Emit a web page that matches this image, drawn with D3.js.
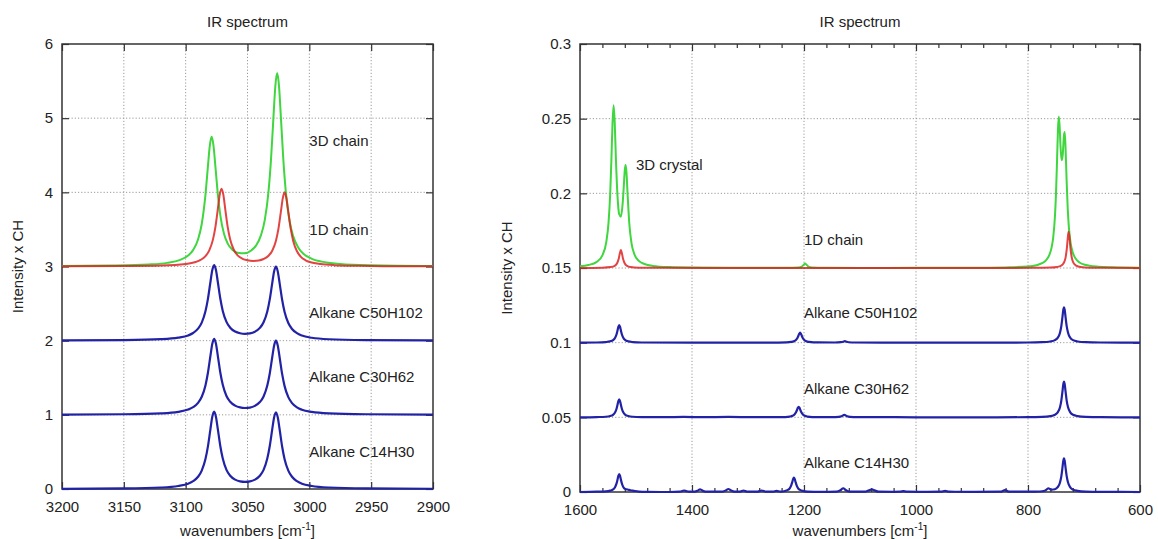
<!DOCTYPE html>
<html>
<head>
<meta charset="utf-8">
<script src="https://cdn.jsdelivr.net/npm/d3@7"></script>
<style>
  body { margin: 0; background: #fff; }
  svg { display: block; font-family: "Liberation Sans", Arial, Helvetica, sans-serif; }
</style>
</head>
<body>
<svg width="1158" height="539"></svg>
<script>
// ---- C-H stretch region (left panel) ----
const chXTicks = [3200, 3150, 3100, 3050, 3000, 2950, 2900];
const chYTicks = [0, 1, 2, 3, 4, 5, 6];

// shared wavenumbers for the three alkane curves
const alkaneWn = [3200, 3150, 3120, 3106, 3098, 3094, 3090, 3087, 3084, 3082, 3080, 3078.5, 3077, 3075.5, 3074, 3072, 3070, 3067, 3064, 3060, 3056, 3052, 3048, 3044, 3040, 3037, 3034, 3032, 3030, 3028.5, 3027, 3025.5, 3024, 3022, 3020, 3017, 3014, 3010, 3006, 2998, 2984, 2954, 2900];
const c14CH = [0.003, 0.008, 0.020, 0.041, 0.072, 0.105, 0.165, 0.248, 0.403, 0.575, 0.805, 0.970, 1.042, 0.972, 0.808, 0.580, 0.410, 0.258, 0.179, 0.126, 0.102, 0.095, 0.102, 0.126, 0.179, 0.258, 0.410, 0.580, 0.805, 0.965, 1.035, 0.965, 0.802, 0.573, 0.402, 0.248, 0.165, 0.105, 0.072, 0.041, 0.020, 0.008, 0.003];
const c30CH = [1.003, 1.008, 1.020, 1.040, 1.071, 1.103, 1.162, 1.244, 1.397, 1.567, 1.793, 1.955, 2.026, 1.957, 1.796, 1.571, 1.404, 1.254, 1.176, 1.124, 1.100, 1.092, 1.098, 1.121, 1.172, 1.248, 1.394, 1.557, 1.776, 1.933, 2.000, 1.931, 1.773, 1.552, 1.387, 1.238, 1.158, 1.101, 1.069, 1.039, 1.019, 1.008, 1.003];
const c50CH = [2.003, 2.008, 2.020, 2.040, 2.070, 2.103, 2.162, 2.243, 2.395, 2.563, 2.788, 2.950, 3.020, 2.952, 2.791, 2.568, 2.401, 2.253, 2.175, 2.123, 2.100, 2.092, 2.098, 2.121, 2.172, 2.248, 2.394, 2.557, 2.776, 2.933, 3.000, 2.931, 2.773, 2.552, 2.387, 2.238, 2.158, 2.101, 2.069, 2.039, 2.019, 2.008, 2.003];

const chain1DWn = [3200, 3150, 3120, 3100, 3092, 3088, 3084, 3081, 3078, 3076, 3074, 3072.5, 3071, 3069.5, 3068, 3066, 3064, 3061, 3058, 3054, 3050, 3045.5, 3041, 3037, 3033, 3030, 3027, 3025, 3023, 3021.5, 3020, 3018.5, 3017, 3015, 3013, 3010, 3007, 3003, 2999, 2991, 2980, 2960, 2940, 2900];
const chain1DCH = [3.002, 3.006, 3.013, 3.034, 3.060, 3.088, 3.140, 3.215, 3.359, 3.528, 3.773, 3.963, 4.049, 3.964, 3.775, 3.532, 3.364, 3.223, 3.151, 3.104, 3.083, 3.075, 3.081, 3.101, 3.145, 3.213, 3.348, 3.507, 3.739, 3.918, 4.000, 3.917, 3.737, 3.503, 3.342, 3.205, 3.134, 3.084, 3.058, 3.033, 3.018, 3.009, 3.005, 3.003];

const chain3DWn = [3200, 3160, 3130, 3115, 3105, 3098, 3094, 3090, 3087, 3084, 3082, 3080.5, 3079, 3077.5, 3076, 3074, 3072, 3069, 3066, 3062, 3058, 3052.5, 3047, 3043, 3039, 3036, 3033, 3031, 3029, 3027.5, 3026, 3024.5, 3023, 3021, 3019, 3016, 3013, 3009, 3005, 2998, 2990, 2975, 2950, 2900];
const chain3DCH = [3.006, 3.012, 3.027, 3.049, 3.086, 3.148, 3.221, 3.363, 3.573, 3.966, 4.351, 4.627, 4.748, 4.630, 4.357, 3.977, 3.694, 3.441, 3.309, 3.222, 3.185, 3.178, 3.216, 3.285, 3.426, 3.629, 4.013, 4.441, 5.018, 5.430, 5.608, 5.428, 5.014, 4.434, 4.003, 3.614, 3.406, 3.256, 3.176, 3.104, 3.066, 3.035, 3.017, 3.007];

// ---- fingerprint region (right panel), [wavenumber, intensity] ----
const fpXTicks = [1600, 1400, 1200, 1000, 800, 600];
const fpYTicks = [0, 0.05, 0.1, 0.15, 0.2, 0.25, 0.3];

const crystal3DFP = [[1600,0.1512],[1585,0.1520],[1570,0.1541],[1560,0.1585],[1553,0.1675],[1549,0.1806],[1546,0.2004],[1544,0.2216],[1542,0.2462],[1540,0.2590],[1538,0.2475],[1536,0.2244],[1533,0.1980],[1530,0.1860],[1527,0.1844],[1524,0.1924],[1522,0.2035],[1520,0.2156],[1518.5,0.2190],[1517,0.2139],[1515,0.1994],[1512,0.1800],[1508,0.1665],[1503,0.1593],[1495,0.1548],[1485,0.1527],[1470,0.1514],[1440,0.1506],[1400,0.1503],[1300,0.1501],[1230,0.1501],[1210,0.1503],[1204,0.1509],[1200,0.1524],[1198,0.1530],[1196,0.1524],[1192,0.1509],[1186,0.1503],[1160,0.1501],[1100,0.1500],[1000,0.1501],[900,0.1501],[840,0.1504],[800,0.1510],[785,0.1519],[775,0.1532],[768,0.1551],[762,0.1586],[758,0.1635],[755,0.1704],[752,0.1838],[750,0.1998],[748,0.2237],[746.5,0.2425],[745,0.2514],[743.5,0.2448],[742,0.2321],[740,0.2222],[738,0.2258],[736,0.2379],[734.5,0.2410],[733,0.2311],[731,0.2081],[729,0.1893],[727,0.1772],[724,0.1670],[720,0.1603],[715,0.1563],[708,0.1537],[700,0.1523],[690,0.1515],[675,0.1509],[650,0.1505],[600,0.1502]];

const chain1DFP = [[1600,0.1500],[1560,0.1502],[1545,0.1506],[1538,0.1514],[1534,0.1530],[1531,0.1560],[1529,0.1596],[1527,0.1620],[1525,0.1596],[1523,0.1560],[1520,0.1530],[1516,0.1514],[1510,0.1506],[1495,0.1502],[1460,0.1501],[1300,0.1500],[1000,0.1500],[850,0.1500],[790,0.1501],[760,0.1503],[748,0.1507],[741,0.1515],[736,0.1535],[733,0.1568],[730.5,0.1636],[729,0.1701],[727.5,0.1743],[726,0.1710],[724.5,0.1644],[722,0.1572],[719,0.1536],[714,0.1516],[706,0.1506],[690,0.1502],[660,0.1501],[600,0.1500]];

const c50FP = [[1600,0.1000],[1570,0.1001],[1554,0.1004],[1546,0.1009],[1541,0.1017],[1537.5,0.1031],[1535,0.1053],[1533,0.1082],[1531.5,0.1106],[1530,0.1118],[1528.5,0.1106],[1527,0.1082],[1525,0.1053],[1522.5,0.1031],[1519,0.1017],[1514,0.1009],[1506,0.1004],[1490,0.1001],[1400,0.1000],[1260,0.1000],[1231,0.1002],[1223,0.1005],[1218,0.1010],[1214.5,0.1018],[1212,0.1030],[1210,0.1046],[1208.5,0.1060],[1207,0.1067],[1205.5,0.1060],[1204,0.1046],[1202,0.1030],[1199.5,0.1018],[1196,0.1010],[1191,0.1005],[1183,0.1002],[1145,0.1001],[1134,0.1003],[1130,0.1006],[1127,0.1010],[1124,0.1006],[1120,0.1003],[1110,0.1001],[1000,0.1000],[900,0.1000],[800,0.1001],[775,0.1003],[760,0.1008],[752,0.1017],[747,0.1032],[743,0.1065],[740.5,0.1111],[738.5,0.1171],[737,0.1219],[735.7,0.1237],[734.5,0.1221],[733,0.1174],[731,0.1113],[728.5,0.1067],[724.5,0.1033],[719.5,0.1017],[711.5,0.1008],[697,0.1003],[670,0.1001],[600,0.1000]];

const c30FP = [[1600,0.0500],[1570,0.0502],[1554,0.0504],[1546,0.0509],[1541,0.0517],[1537.5,0.0532],[1535,0.0554],[1533,0.0584],[1531.5,0.0609],[1530,0.0621],[1528.5,0.0609],[1527,0.0584],[1525,0.0554],[1522.5,0.0532],[1519,0.0517],[1514,0.0509],[1506,0.0504],[1490,0.0502],[1450,0.0501],[1415,0.0503],[1380,0.0501],[1335,0.0503],[1290,0.0501],[1250,0.0501],[1233.5,0.0502],[1225.5,0.0505],[1220.5,0.0510],[1217,0.0519],[1214.5,0.0532],[1212.5,0.0549],[1211,0.0564],[1209.5,0.0571],[1208,0.0564],[1206.5,0.0549],[1204.5,0.0532],[1202,0.0519],[1198.5,0.0510],[1193.5,0.0505],[1185.5,0.0502],[1150,0.0501],[1138,0.0503],[1133,0.0507],[1128,0.0516],[1123,0.0507],[1118,0.0503],[1105,0.0501],[1075,0.0502],[1000,0.0500],[900,0.0500],[800,0.0501],[775,0.0503],[760,0.0508],[752,0.0517],[747,0.0533],[743,0.0566],[740.5,0.0612],[738.5,0.0672],[737,0.0721],[735.7,0.0739],[734.5,0.0723],[733,0.0676],[731,0.0614],[728.5,0.0567],[724.5,0.0533],[719.5,0.0517],[711.5,0.0508],[697,0.0503],[670,0.0501],[600,0.0500]];

const c14FP = [[1600,0.0000],[1570,0.0002],[1554,0.0004],[1546,0.0009],[1541,0.0017],[1537.5,0.0032],[1535,0.0054],[1533,0.0083],[1531.5,0.0108],[1530,0.0120],[1528.5,0.0108],[1527,0.0083],[1525,0.0054],[1522.5,0.0032],[1519,0.0020],[1515,0.0017],[1510,0.0012],[1504,0.0008],[1495,0.0003],[1480,0.0001],[1440,0.0000],[1422,0.0002],[1417.5,0.0006],[1414,0.0010],[1410.5,0.0006],[1406,0.0002],[1395,0.0002],[1389,0.0011],[1385.7,0.0018],[1382,0.0011],[1376,0.0003],[1345,0.0003],[1339,0.0012],[1335,0.0020],[1331,0.0012],[1324,0.0003],[1314,0.0003],[1308,0.0010],[1302,0.0003],[1284,0.0002],[1275.6,0.0010],[1268,0.0002],[1255,0.0002],[1249,0.0007],[1242,0.0003],[1234,0.0007],[1229,0.0014],[1225.5,0.0025],[1223,0.0043],[1221,0.0066],[1219.5,0.0086],[1218,0.0096],[1216.5,0.0086],[1215,0.0066],[1213,0.0043],[1210.5,0.0025],[1207,0.0014],[1202,0.0007],[1194,0.0003],[1170,0.0001],[1142,0.0003],[1135,0.0012],[1130,0.0025],[1125,0.0012],[1118,0.0003],[1090,0.0003],[1084,0.0011],[1079,0.0018],[1074,0.0011],[1067,0.0002],[1040,0.0001],[1028,0.0002],[1022.6,0.0006],[1017,0.0002],[995,0.0001],[955,0.0002],[948,0.0008],[941,0.0002],[900,0.0001],[849,0.0002],[841,0.0012],[833,0.0002],[800,0.0002],[785,0.0003],[775,0.0005],[769,0.0011],[766,0.0019],[763.7,0.0025],[761,0.0020],[758,0.0015],[752,0.0018],[747,0.0032],[743,0.0062],[740.5,0.0105],[738.5,0.0162],[737,0.0208],[735.7,0.0225],[734.5,0.0210],[733,0.0165],[731,0.0108],[728.5,0.0063],[724.5,0.0031],[719.5,0.0016],[711.5,0.0008],[697,0.0003],[670,0.0001],[600,0.0000]];

const colors = { alkane: "#2222a6", chain1D: "#dd2222", chain3D: "#3fd63f" };

const svg = d3.select("svg");

function panel(cfg) {
  const x = d3.scaleLinear().domain(cfg.xDomain).range([cfg.left, cfg.right]);
  const y = d3.scaleLinear().domain(cfg.yDomain).range([cfg.bottom, cfg.top]);
  const g = svg.append("g");

  // dotted grid
  g.append("g").selectAll("line")
    .data(cfg.xTicks.slice(1, -1))
    .join("line")
    .attr("x1", d => x(d)).attr("x2", d => x(d))
    .attr("y1", cfg.top).attr("y2", cfg.bottom);
  g.append("g").selectAll("line")
    .data(cfg.yTicks.slice(1, -1))
    .join("line")
    .attr("x1", cfg.left).attr("x2", cfg.right)
    .attr("y1", d => y(d)).attr("y2", d => y(d));
  g.selectAll("line")
    .attr("stroke", "#9a9a9a")
    .attr("stroke-width", 1)
    .attr("stroke-dasharray", "1.2,2");

  // axes (ticks point inward)
  const styleAxis = sel => {
    sel.attr("font-size", 15).attr("font-family", null);
    sel.select(".domain").remove();
    sel.selectAll(".tick line").attr("stroke", "#333").attr("stroke-width", 1.2);
    sel.selectAll(".tick text").attr("fill", "#222");
  };
  g.append("g").attr("transform", `translate(0,${cfg.bottom})`)
    .call(d3.axisBottom(x).tickValues(cfg.xTicks).tickSize(-7).tickPadding(12)
      .tickFormat(d3.format("d")).tickSizeOuter(0))
    .call(styleAxis);
  g.append("g").attr("transform", `translate(0,${cfg.top})`)
    .call(d3.axisTop(x).tickValues(cfg.xTicks).tickSize(-7).tickFormat("").tickSizeOuter(0))
    .call(styleAxis);
  if (cfg.xMinor) {
    g.append("g").attr("transform", `translate(0,${cfg.bottom})`)
      .call(d3.axisBottom(x).tickValues(cfg.xMinor).tickSize(-4).tickFormat("").tickSizeOuter(0))
      .call(styleAxis);
    g.append("g").attr("transform", `translate(0,${cfg.top})`)
      .call(d3.axisTop(x).tickValues(cfg.xMinor).tickSize(-4).tickFormat("").tickSizeOuter(0))
      .call(styleAxis);
  }
  g.append("g").attr("transform", `translate(${cfg.left},0)`)
    .call(d3.axisLeft(y).tickValues(cfg.yTicks).tickSize(-7).tickPadding(9).tickFormat(cfg.yFormat).tickSizeOuter(0))
    .call(styleAxis);
  g.append("g").attr("transform", `translate(${cfg.right},0)`)
    .call(d3.axisRight(y).tickValues(cfg.yTicks).tickSize(-7).tickFormat("").tickSizeOuter(0))
    .call(styleAxis);

  // frame
  g.append("rect")
    .attr("x", cfg.left).attr("y", cfg.top)
    .attr("width", cfg.right - cfg.left).attr("height", cfg.bottom - cfg.top)
    .attr("fill", "none").attr("stroke", "#333").attr("stroke-width", 1.5);

  // curves
  const line = d3.line()
    .x(d => x(d[0]))
    .y(d => y(d[1]))
    .curve(d3.curveMonotoneX);
  g.append("g").selectAll("path")
    .data(cfg.series)
    .join("path")
    .attr("d", d => line(d.points))
    .attr("fill", "none")
    .attr("stroke", d => d.color)
    .attr("stroke-width", d => d.width)
    .attr("stroke-opacity", d => d.opacity)
    .attr("stroke-linejoin", "round");

  // curve labels
  g.append("g").selectAll("text")
    .data(cfg.labels)
    .join("text")
    .attr("x", d => x(d.at[0]))
    .attr("y", d => y(d.at[1]))
    .attr("dy", "0.35em")
    .attr("font-size", 15)
    .attr("fill", "#222")
    .text(d => d.text);

  const cx = (cfg.left + cfg.right) / 2;
  svg.append("text")
    .attr("x", cx).attr("y", 22).attr("dy", "0.35em")
    .attr("text-anchor", "middle").attr("font-size", 15).attr("fill", "#222")
    .text("IR spectrum");

  const xl = svg.append("text")
    .attr("x", cx).attr("y", 536)
    .attr("text-anchor", "middle").attr("font-size", 15).attr("fill", "#222");
  xl.append("tspan").text("wavenumbers [cm");
  xl.append("tspan").attr("font-size", 10).attr("dy", -6).text("-1");
  xl.append("tspan").attr("dy", 6).text("]");

  svg.append("text")
    .attr("transform", `translate(${cfg.ylabelX},${(cfg.top + cfg.bottom) / 2}) rotate(-90)`)
    .attr("dy", "0.35em")
    .attr("text-anchor", "middle").attr("font-size", 15).attr("fill", "#222")
    .text("Intensity x CH");
}

const zipWn = (wn, vals) => d3.zip(wn, vals);

panel({
  left: 62, right: 433, top: 44, bottom: 489,
  xDomain: [3200, 2900], yDomain: [0, 6],
  xTicks: chXTicks, yTicks: chYTicks,
  yFormat: d3.format("d"),
  ylabelX: 18,
  series: [
    { points: zipWn(alkaneWn, c14CH), color: colors.alkane, width: 2.2, opacity: 1 },
    { points: zipWn(alkaneWn, c30CH), color: colors.alkane, width: 2.2, opacity: 1 },
    { points: zipWn(alkaneWn, c50CH), color: colors.alkane, width: 2.2, opacity: 1 },
    { points: zipWn(chain3DWn, chain3DCH), color: colors.chain3D, width: 2, opacity: 1 },
    { points: zipWn(chain1DWn, chain1DCH), color: colors.chain1D, width: 2, opacity: 0.85 }
  ],
  labels: [
    { text: "3D chain", at: [3000, 4.69] },
    { text: "1D chain", at: [3000, 3.49] },
    { text: "Alkane C50H102", at: [3000, 2.37] },
    { text: "Alkane C30H62", at: [3000, 1.51] },
    { text: "Alkane C14H30", at: [3000, 0.50] }
  ]
});

panel({
  left: 580, right: 1140, top: 44, bottom: 492,
  xDomain: [1600, 600], yDomain: [0, 0.3],
  xTicks: fpXTicks, yTicks: fpYTicks,
  xMinor: d3.range(640, 1600, 40).filter(d => d % 200 !== 0),
  yFormat: d => String(+d.toFixed(2)),
  ylabelX: 507,
  series: [
    { points: c14FP, color: colors.alkane, width: 2.2, opacity: 1 },
    { points: c30FP, color: colors.alkane, width: 2.2, opacity: 1 },
    { points: c50FP, color: colors.alkane, width: 2.2, opacity: 1 },
    { points: crystal3DFP, color: colors.chain3D, width: 2, opacity: 1 },
    { points: chain1DFP, color: colors.chain1D, width: 2, opacity: 0.85 }
  ],
  labels: [
    { text: "3D crystal", at: [1500, 0.219] },
    { text: "1D chain", at: [1200, 0.169] },
    { text: "Alkane C50H102", at: [1200, 0.1197] },
    { text: "Alkane C30H62", at: [1200, 0.0694] },
    { text: "Alkane C14H30", at: [1200, 0.0196] }
  ]
});
</script>
</body>
</html>
